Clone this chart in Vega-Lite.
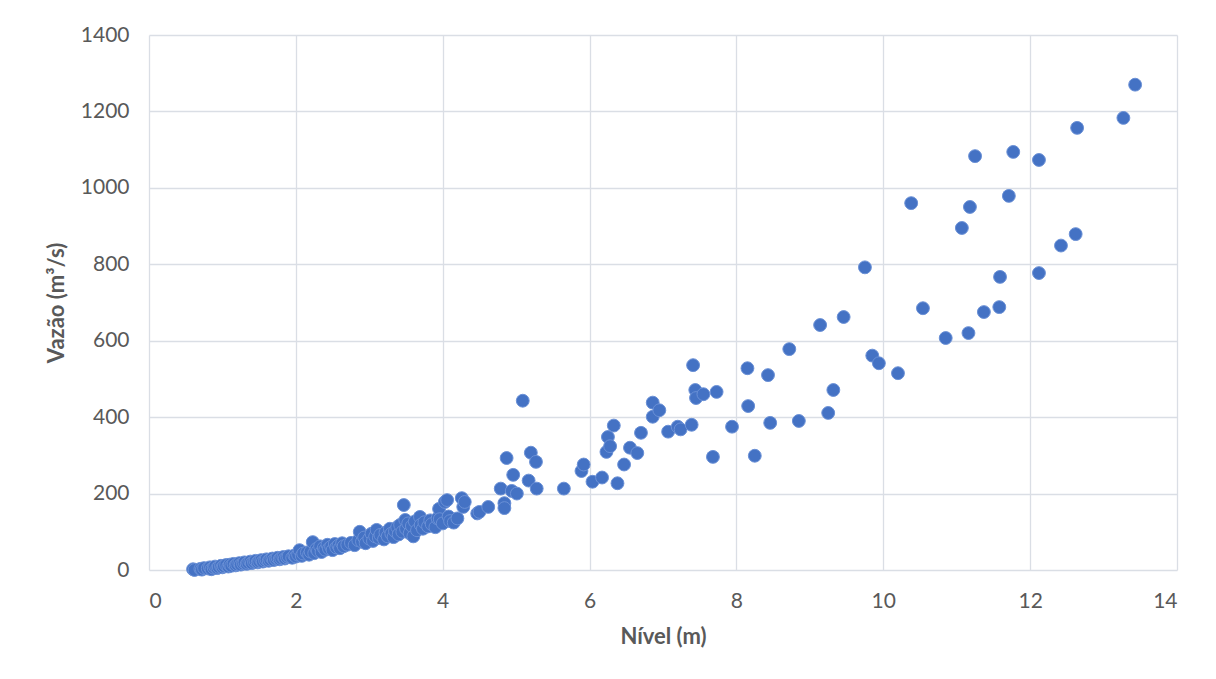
{
  "$schema": "https://vega.github.io/schema/vega-lite/v6.json",
  "autosize": "none",
  "width": 1028,
  "height": 535,
  "padding": {"left": 149, "top": 35, "right": 39, "bottom": 109},
  "background": "#ffffff",
  "config": {
    "view": {"stroke": null},
    "font": "Lato",
    "axis": {
      "labelFont": "Lato",
      "titleFont": "Lato",
      "labelColor": "#595959",
      "titleColor": "#595959",
      "labelFontSize": 21,
      "titleFontSize": 22,
      "titleFontWeight": "bold",
      "gridColor": "#dadee5",
      "gridWidth": 1.3,
      "domain": false,
      "ticks": false,
      "format": "d"
    }
  },
  "data": {
    "values": [
      {"nivel": 0.6, "vazao": 2}, {"nivel": 0.62, "vazao": 0}, {"nivel": 0.7, "vazao": 3}, {"nivel": 0.72, "vazao": 1},
      {"nivel": 0.75, "vazao": 5}, {"nivel": 0.8, "vazao": 4}, {"nivel": 0.83, "vazao": 7}, {"nivel": 0.85, "vazao": 2},
      {"nivel": 0.88, "vazao": 6}, {"nivel": 0.9, "vazao": 9}, {"nivel": 0.93, "vazao": 5}, {"nivel": 0.95, "vazao": 8},
      {"nivel": 0.98, "vazao": 11}, {"nivel": 1.0, "vazao": 7}, {"nivel": 1.02, "vazao": 10}, {"nivel": 1.05, "vazao": 13},
      {"nivel": 1.08, "vazao": 9}, {"nivel": 1.1, "vazao": 14}, {"nivel": 1.12, "vazao": 11}, {"nivel": 1.15, "vazao": 16},
      {"nivel": 1.18, "vazao": 12}, {"nivel": 1.2, "vazao": 15}, {"nivel": 1.23, "vazao": 18}, {"nivel": 1.25, "vazao": 14},
      {"nivel": 1.28, "vazao": 17}, {"nivel": 1.3, "vazao": 20}, {"nivel": 1.33, "vazao": 16}, {"nivel": 1.35, "vazao": 19},
      {"nivel": 1.38, "vazao": 22}, {"nivel": 1.4, "vazao": 18}, {"nivel": 1.43, "vazao": 21}, {"nivel": 1.45, "vazao": 24},
      {"nivel": 1.48, "vazao": 20}, {"nivel": 1.5, "vazao": 23}, {"nivel": 1.53, "vazao": 26}, {"nivel": 1.55, "vazao": 22},
      {"nivel": 1.58, "vazao": 25}, {"nivel": 1.6, "vazao": 28}, {"nivel": 1.63, "vazao": 24}, {"nivel": 1.65, "vazao": 27},
      {"nivel": 1.68, "vazao": 30}, {"nivel": 1.7, "vazao": 26}, {"nivel": 1.73, "vazao": 29}, {"nivel": 1.75, "vazao": 32},
      {"nivel": 1.78, "vazao": 28}, {"nivel": 1.8, "vazao": 31}, {"nivel": 1.83, "vazao": 34}, {"nivel": 1.85, "vazao": 30},
      {"nivel": 1.88, "vazao": 33}, {"nivel": 1.9, "vazao": 36}, {"nivel": 1.95, "vazao": 32}, {"nivel": 1.98, "vazao": 38},
      {"nivel": 2.0, "vazao": 35}, {"nivel": 2.03, "vazao": 40}, {"nivel": 2.05, "vazao": 52}, {"nivel": 2.08, "vazao": 37},
      {"nivel": 2.1, "vazao": 43}, {"nivel": 2.15, "vazao": 46}, {"nivel": 2.18, "vazao": 40}, {"nivel": 2.2, "vazao": 48},
      {"nivel": 2.23, "vazao": 73}, {"nivel": 2.25, "vazao": 44}, {"nivel": 2.28, "vazao": 55}, {"nivel": 2.3, "vazao": 50},
      {"nivel": 2.33, "vazao": 62}, {"nivel": 2.35, "vazao": 47}, {"nivel": 2.38, "vazao": 58}, {"nivel": 2.4, "vazao": 53},
      {"nivel": 2.43, "vazao": 66}, {"nivel": 2.45, "vazao": 56}, {"nivel": 2.48, "vazao": 61}, {"nivel": 2.5, "vazao": 52},
      {"nivel": 2.53, "vazao": 68}, {"nivel": 2.55, "vazao": 59}, {"nivel": 2.58, "vazao": 64}, {"nivel": 2.6, "vazao": 57},
      {"nivel": 2.63, "vazao": 70}, {"nivel": 2.65, "vazao": 62}, {"nivel": 2.7, "vazao": 66}, {"nivel": 2.75, "vazao": 71},
      {"nivel": 2.8, "vazao": 65}, {"nivel": 2.85, "vazao": 78}, {"nivel": 2.87, "vazao": 100}, {"nivel": 2.9, "vazao": 74},
      {"nivel": 2.93, "vazao": 85}, {"nivel": 2.95, "vazao": 70}, {"nivel": 3.0, "vazao": 82}, {"nivel": 3.03, "vazao": 95},
      {"nivel": 3.05, "vazao": 76}, {"nivel": 3.08, "vazao": 88}, {"nivel": 3.1, "vazao": 105}, {"nivel": 3.13, "vazao": 84},
      {"nivel": 3.15, "vazao": 92}, {"nivel": 3.2, "vazao": 80}, {"nivel": 3.22, "vazao": 98}, {"nivel": 3.25, "vazao": 88},
      {"nivel": 3.28, "vazao": 108}, {"nivel": 3.3, "vazao": 95}, {"nivel": 3.33, "vazao": 86}, {"nivel": 3.35, "vazao": 102},
      {"nivel": 3.38, "vazao": 112}, {"nivel": 3.4, "vazao": 93}, {"nivel": 3.42, "vazao": 118}, {"nivel": 3.45, "vazao": 100},
      {"nivel": 3.47, "vazao": 170}, {"nivel": 3.49, "vazao": 131}, {"nivel": 3.5, "vazao": 108}, {"nivel": 3.53, "vazao": 122},
      {"nivel": 3.55, "vazao": 96}, {"nivel": 3.58, "vazao": 115}, {"nivel": 3.6, "vazao": 88}, {"nivel": 3.62, "vazao": 127},
      {"nivel": 3.65, "vazao": 104}, {"nivel": 3.69, "vazao": 139}, {"nivel": 3.7, "vazao": 118}, {"nivel": 3.73, "vazao": 108},
      {"nivel": 3.75, "vazao": 125}, {"nivel": 3.8, "vazao": 114}, {"nivel": 3.83, "vazao": 130}, {"nivel": 3.85, "vazao": 120},
      {"nivel": 3.9, "vazao": 112}, {"nivel": 3.93, "vazao": 135}, {"nivel": 3.95, "vazao": 160}, {"nivel": 3.96, "vazao": 133},
      {"nivel": 4.0, "vazao": 122}, {"nivel": 4.03, "vazao": 178}, {"nivel": 4.06, "vazao": 183}, {"nivel": 4.08, "vazao": 140},
      {"nivel": 4.1, "vazao": 128}, {"nivel": 4.15, "vazao": 124}, {"nivel": 4.2, "vazao": 135}, {"nivel": 4.26, "vazao": 188},
      {"nivel": 4.28, "vazao": 165}, {"nivel": 4.3, "vazao": 178}, {"nivel": 4.47, "vazao": 148}, {"nivel": 4.5, "vazao": 152},
      {"nivel": 4.62, "vazao": 165},
      {"nivel": 4.79, "vazao": 213}, {"nivel": 4.84, "vazao": 175}, {"nivel": 4.84, "vazao": 162}, {"nivel": 4.87, "vazao": 293},
      {"nivel": 4.94, "vazao": 207}, {"nivel": 4.96, "vazao": 249}, {"nivel": 5.01, "vazao": 200}, {"nivel": 5.09, "vazao": 443},
      {"nivel": 5.17, "vazao": 234}, {"nivel": 5.2, "vazao": 307}, {"nivel": 5.27, "vazao": 283}, {"nivel": 5.28, "vazao": 213},
      {"nivel": 5.65, "vazao": 213}, {"nivel": 5.89, "vazao": 259}, {"nivel": 5.92, "vazao": 276}, {"nivel": 6.04, "vazao": 231},
      {"nivel": 6.17, "vazao": 242}, {"nivel": 6.23, "vazao": 309}, {"nivel": 6.25, "vazao": 348}, {"nivel": 6.28, "vazao": 324},
      {"nivel": 6.33, "vazao": 378}, {"nivel": 6.38, "vazao": 227}, {"nivel": 6.47, "vazao": 276}, {"nivel": 6.55, "vazao": 320},
      {"nivel": 6.65, "vazao": 306}, {"nivel": 6.7, "vazao": 359}, {"nivel": 6.86, "vazao": 438}, {"nivel": 6.86, "vazao": 401},
      {"nivel": 6.95, "vazao": 418}, {"nivel": 7.07, "vazao": 362}, {"nivel": 7.2, "vazao": 375}, {"nivel": 7.24, "vazao": 368},
      {"nivel": 7.39, "vazao": 380}, {"nivel": 7.41, "vazao": 536}, {"nivel": 7.44, "vazao": 471}, {"nivel": 7.45, "vazao": 450},
      {"nivel": 7.55, "vazao": 460}, {"nivel": 7.68, "vazao": 296}, {"nivel": 7.73, "vazao": 466}, {"nivel": 7.94, "vazao": 375},
      {"nivel": 8.15, "vazao": 528}, {"nivel": 8.16, "vazao": 429}, {"nivel": 8.25, "vazao": 299}, {"nivel": 8.43, "vazao": 510},
      {"nivel": 8.46, "vazao": 385}, {"nivel": 8.72, "vazao": 578}, {"nivel": 8.85, "vazao": 390}, {"nivel": 9.14, "vazao": 641},
      {"nivel": 9.25, "vazao": 411}, {"nivel": 9.32, "vazao": 471}, {"nivel": 9.46, "vazao": 662}, {"nivel": 9.75, "vazao": 792},
      {"nivel": 9.85, "vazao": 561}, {"nivel": 9.94, "vazao": 541}, {"nivel": 10.2, "vazao": 515}, {"nivel": 10.38, "vazao": 960},
      {"nivel": 10.54, "vazao": 685}, {"nivel": 10.85, "vazao": 607}, {"nivel": 11.07, "vazao": 895}, {"nivel": 11.16, "vazao": 620},
      {"nivel": 11.18, "vazao": 950}, {"nivel": 11.25, "vazao": 1083}, {"nivel": 11.37, "vazao": 675}, {"nivel": 11.58, "vazao": 688},
      {"nivel": 11.59, "vazao": 767}, {"nivel": 11.71, "vazao": 979}, {"nivel": 11.77, "vazao": 1094}, {"nivel": 12.12, "vazao": 1073},
      {"nivel": 12.12, "vazao": 777}, {"nivel": 12.42, "vazao": 849}, {"nivel": 12.62, "vazao": 879}, {"nivel": 12.64, "vazao": 1157},
      {"nivel": 13.27, "vazao": 1183}, {"nivel": 13.43, "vazao": 1270}
    ]
  },
  "mark": {
    "type": "point",
    "shape": "circle",
    "filled": true,
    "size": 165,
    "color": "#4472c4",
    "stroke": "#6a90d6",
    "strokeWidth": 1,
    "opacity": 1
  },
  "encoding": {
    "x": {
      "field": "nivel",
      "type": "quantitative",
      "scale": {"domain": [0, 14], "nice": false},
      "axis": {
        "title": "Nível (m)",
        "values": [0, 2, 4, 6, 8, 10, 12, 14],
        "labelPadding": 20,
        "titlePadding": 15
      }
    },
    "y": {
      "field": "vazao",
      "type": "quantitative",
      "scale": {"domain": [0, 1400], "nice": false},
      "axis": {
        "title": "Vazão (m³/s)",
        "values": [0, 200, 400, 600, 800, 1000, 1200, 1400],
        "labelPadding": 20,
        "titlePadding": 12
      }
    }
  }
}
